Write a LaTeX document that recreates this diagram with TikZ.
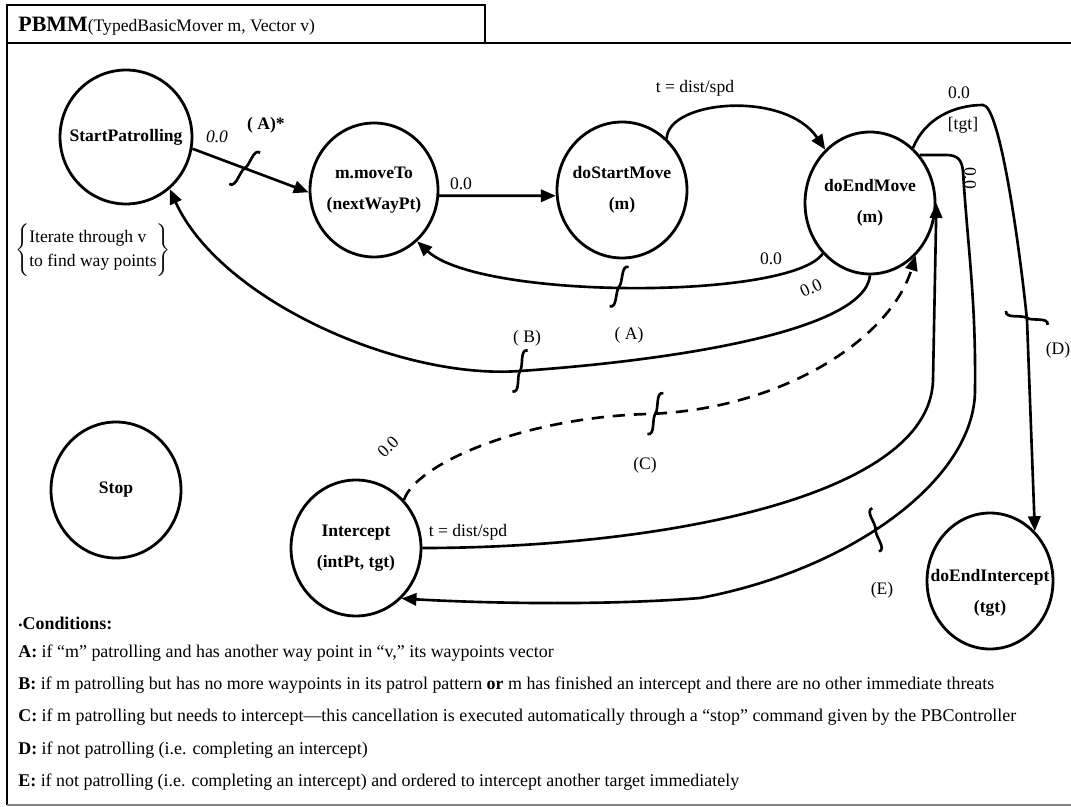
\documentclass[tikz,border=0pt]{standalone}
\usepackage{fontspec}
\setmainfont{Liberation Serif}
\usepackage{tikz}
\usetikzlibrary{shapes,arrows.meta,positioning,decorations.markings}

\begin{document}
\begin{tikzpicture}[x=0.02cm, y=-0.02cm,
    stnode/.style={ellipse, draw, line width=1.6pt, minimum width=2.6cm, minimum height=2.72cm,
        inner xsep=-1cm, align=center, font=\fontsize{10}{17.6}\selectfont\bfseries},
    edgeline/.style={line width=1.5pt, -{Triangle[length=8.5pt,width=7pt]}},
    brk/.style={postaction={decorate, decoration={markings, mark=at position #1 with {
        \draw[solid, -, line width=1.5pt] (0.18cm,0.4cm) .. controls (0.02cm,0.44cm) and (0.08cm,0.1cm) .. (0cm,0cm)
            .. controls (-0.08cm,-0.1cm) and (-0.02cm,-0.44cm) .. (-0.18cm,-0.4cm);}}}},
    lbl/.style={font=\fontsize{10}{12}\selectfont, inner sep=1pt},
    cond/.style={anchor=west, inner sep=0pt, font=\fontsize{10.2}{12}\selectfont}
]
    \useasboundingbox (0,0) rectangle (1071,807);

    % Frame and title
    \draw[line width=1.6pt] (7,5) rectangle (485,43);
    \draw[line width=1.6pt] (1071,43) -- (7,43) -- (7,805);
    \draw[line width=0.8pt, gray] (7,805) -- (1071,805);
    \node[anchor=west, inner sep=0pt] (title) at (18,26) {\fontsize{12.5}{14}\selectfont\bfseries PBMM\fontsize{10}{12}\selectfont\mdseries(TypedBasicMover m, Vector v)};

    % States
    \node[stnode, minimum width=2.64cm, minimum height=2.68cm] (start) at (126,137) {StartPatrolling};
    \node[stnode, minimum width=2.56cm, minimum height=2.68cm] (moveto) at (374,190) {m.moveTo\\(nextWayPt)};
    \node[stnode] (smove) at (622,190) {doStartMove\\(m)};
    \node[stnode, minimum height=2.84cm] (emove) at (870,203) {doEndMove\\(m)};
    \node[stnode] (stop) at (116,490) {Stop};
    \node[stnode] (icept) at (356,548) {Intercept\\(intPt, tgt)};
    \node[stnode, minimum width=2.52cm, text height=38pt] (eicept) at (990,581) {doEndIntercept\\(tgt)};

    % Iterate note
    \node (iter) at (93,250) {$\left\{\mbox{\def\arraystretch{1.15}\begin{tabular}{@{}l@{}}Iterate through v\\to find way points\end{tabular}}\right\}$};

    % Transitions
    \draw[edgeline, brk=0.45] (start.-10) -- (moveto.182);
    \draw[edgeline] (moveto.-5) -- (smove.185);
    \draw[edgeline] (smove.49) .. controls (668,100) and (785,90) .. (emove.130);
    \draw[edgeline, brk=0.5] (emove.227) .. controls (790,300) and (480,300) .. (moveto.-50);
    \draw[edgeline, brk=0.475] (emove.-90) .. controls (865,330) and (680,360) .. (520,371)
        .. controls (400,380) and (220,300) .. (start.-50);
    \draw[edgeline, dash pattern=on 7pt off 5pt, brk=0.46] (icept.45) .. controls (415,465) and (520,418) .. (647,414)
        .. controls (780,410) and (890,340) .. (emove.-49);
    \draw[edgeline] (icept.east) .. controls (650,548) and (930,500) .. (933,380) -- (emove.east);
    \draw[edgeline, brk=0.48] (emove.44) -- (946,155) .. controls (958,155) and (962,160) .. (963,172)
        .. controls (968,250) and (976,300) .. (975,390) .. controls (975,480) and (850,570) .. (700,598)
        .. controls (600,606) and (480,603) .. (icept.-48);
    \draw[edgeline, brk=0.59] (emove.52) .. controls (925,118) and (955,105) .. (983,105)
        .. controls (1000,105) and (1020,250) .. (1027,320) -- (eicept.48);

    % Transition labels
    \node[lbl] (t1) at (217,137) {\itshape 0.0};
    \node[lbl] (t2) at (266,125) {\bfseries ( A)*};
    \node[lbl] (t3) at (461,184) {0.0};
    \node[lbl] (t4) at (695,88) {t = dist/spd};
    \node[lbl] (t5) at (771,259) {0.0};
    \node[lbl] (t6) at (629,335) {( A)};
    \node[lbl, rotate=25] (t7) at (811,288) {0.0};
    \node[lbl] (t8) at (527,338) {( B)};
    \node[lbl, rotate=45] (t9) at (388,447) {0.0};
    \node[lbl] (t10) at (645,465) {(C)};
    \node[lbl] (t11) at (468,532) {t = dist/spd};
    \node[lbl, rotate=-90] (t12) at (970,178) {0.0};
    \node[lbl] (t13) at (882,590) {(E)};
    \node[lbl] (t14) at (959,93) {0.0};
    \node[lbl] (t15) at (963,125) {[tgt]};
    \node[lbl] (t16) at (1058,350) {(D)};

    % Conditions
    \node[cond] (chead) at (18,623) {{\scriptsize\textbullet}\textbf{Conditions:}};
    \node[cond] (condA) at (18,653) {\textbf{A:} if “m” patrolling and has another way point in “v,” its waypoints vector};
    \node[cond] (condB) at (18,685) {\textbf{B:} if m patrolling but has no more waypoints in its patrol pattern \textbf{or} m has finished an intercept and there are no other immediate threats};
    \node[cond] (condC) at (18,717) {\textbf{C:} if m patrolling but needs to intercept—this cancellation is executed automatically through a “stop” command given by the PBController};
    \node[cond] (condD) at (18,750) {\textbf{D:} if not patrolling (i.e. completing an intercept)};
    \node[cond] (condE) at (18,782) {\textbf{E:} if not patrolling (i.e. completing an intercept) and ordered to intercept another target immediately};
\end{tikzpicture}
\end{document}
